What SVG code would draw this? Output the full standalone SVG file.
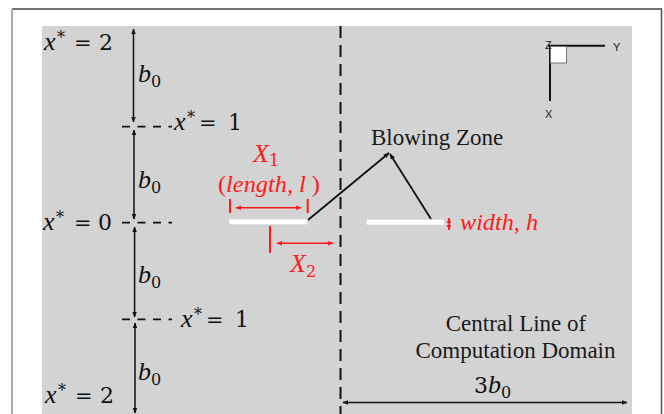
<svg xmlns="http://www.w3.org/2000/svg" width="664" height="414" viewBox="0 0 664 414">
<style>
.math{font-family:"DejaVu Serif","Liberation Serif",serif;font-size:22px;fill:#111}
.it{font-family:"Liberation Serif","Times New Roman",serif;font-style:italic;font-size:26px}
.sym{font-size:21px}
.sub{font-size:16px;font-style:normal}
.red{fill:#ff1a1a}
.txt{font-family:"Liberation Serif","Times New Roman",serif;font-size:23px;fill:#1a1a1a}
.ax{font-family:"Liberation Sans",Arial,sans-serif;font-size:11px;fill:#222}
.dim{stroke:#111;stroke-width:1.5;fill:none;marker-start:url(#ak);marker-end:url(#ak)}
.rdim{stroke:#ff1a1a;stroke-width:1.6;fill:none;marker-start:url(#ar);marker-end:url(#ar)}
.tick{stroke:#ff1a1a;stroke-width:2}
.hd{stroke:#111;stroke-width:1.8;stroke-dasharray:8 7.5}
.plate{fill:#ffffff}
</style>
<defs>
<marker id="ak" viewBox="0 0 10 10" refX="9" refY="5" markerWidth="6" markerHeight="6" markerUnits="userSpaceOnUse" orient="auto-start-reverse"><path d="M0,1 L10,5 L0,9 z" fill="#111"/></marker>
<marker id="ar" viewBox="0 0 10 10" refX="9" refY="5" markerWidth="6" markerHeight="6" markerUnits="userSpaceOnUse" orient="auto-start-reverse"><path d="M0,1 L10,5 L0,9 z" fill="#ff1a1a"/></marker>
</defs>
<rect x="0" y="0" width="664" height="414" fill="#ffffff"/>
<g id="frame">
<line x1="12" y1="9" x2="662" y2="9" stroke="#444" stroke-width="1.5"/>
<line x1="12" y1="9" x2="12" y2="414" stroke="#aaa" stroke-width="2"/>
<line x1="661.5" y1="9" x2="661.5" y2="414" stroke="#555" stroke-width="1.5"/>
<rect x="42" y="26" width="590" height="388" fill="#d3d3d3"/>
</g>
<g id="connectors">
<line class="dim" x1="133.5" y1="29" x2="133.5" y2="122"/>
<line class="dim" x1="134" y1="130" x2="134" y2="219"/>
<line class="dim" x1="134.6" y1="227" x2="134.6" y2="317"/>
<line class="dim" x1="135" y1="323" x2="135" y2="413"/>
<line class="hd" x1="122" y1="126.7" x2="172" y2="126.7"/>
<line class="hd" x1="122" y1="222.7" x2="172" y2="222.7"/>
<line class="hd" x1="122" y1="319.3" x2="172" y2="319.3"/>
<line x1="340.5" y1="26" x2="340.5" y2="414" stroke="#111" stroke-width="2" stroke-dasharray="12 7"/>
<line x1="308" y1="220" x2="389" y2="153" stroke="#111" stroke-width="1.8" marker-end="url(#ak)"/>
<line x1="431" y1="219" x2="390" y2="154" stroke="#111" stroke-width="1.8" marker-end="url(#ak)"/>
<line class="dim" x1="343" y1="402.5" x2="627" y2="402.5"/>
<line class="tick" x1="230" y1="199" x2="230" y2="213"/>
<line class="tick" x1="307.7" y1="199" x2="307.7" y2="213"/>
<line class="rdim" x1="236" y1="207.7" x2="301" y2="207.7"/>
<line class="tick" x1="270" y1="226" x2="270" y2="253"/>
<line class="rdim" x1="277" y1="243.3" x2="333" y2="243.3"/>
<line class="rdim" x1="449" y1="218" x2="449" y2="230" stroke-width="1.4"/>
</g>
<g id="plate-left"><rect class="plate" x="229.3" y="219.3" width="78" height="5"/></g>
<g id="plate-right"><rect class="plate" x="366.7" y="219.7" width="77.3" height="5"/></g>
<g id="axes">
<line x1="548" y1="45.7" x2="605" y2="45.7" stroke="#111" stroke-width="2"/>
<line x1="550" y1="45" x2="550" y2="101" stroke="#111" stroke-width="2"/>
<rect x="550.5" y="46.5" width="16" height="16.5" fill="#ffffff" stroke="#777" stroke-width="1"/>
<text class="ax" x="545" y="49">Z</text>
<text class="ax" x="613" y="51">Y</text>
<text class="ax" x="545" y="118">X</text>
</g>
<g id="labels-left">
<text class="math" x="44" y="50"><tspan class="it">x</tspan><tspan x="57" y="43" class="sub">*</tspan><tspan class="sym" x="74" y="50">=</tspan><tspan x="99" y="50">2</tspan></text>
<text class="math" x="138" y="82"><tspan class="it">b</tspan><tspan x="151" y="87" class="sub">0</tspan></text>
<text class="math" x="174" y="130"><tspan class="it">x</tspan><tspan x="187" y="123" class="sub">*</tspan><tspan class="sym" x="199" y="130">=</tspan><tspan x="228" y="130">1</tspan></text>
<text class="math" x="138" y="188"><tspan class="it">b</tspan><tspan x="151" y="193" class="sub">0</tspan></text>
<text class="math" x="43" y="230"><tspan class="it">x</tspan><tspan x="56" y="223" class="sub">*</tspan><tspan class="sym" x="74" y="230">=</tspan><tspan x="98" y="230">0</tspan></text>
<text class="math" x="138" y="283"><tspan class="it">b</tspan><tspan x="151" y="288" class="sub">0</tspan></text>
<text class="math" x="181" y="327"><tspan class="it">x</tspan><tspan x="194" y="320" class="sub">*</tspan><tspan class="sym" x="206" y="327">=</tspan><tspan x="235" y="327">1</tspan></text>
<text class="math" x="138" y="380"><tspan class="it">b</tspan><tspan x="151" y="385" class="sub">0</tspan></text>
<text class="math" x="45" y="403"><tspan class="it">x</tspan><tspan x="58" y="396" class="sub">*</tspan><tspan class="sym" x="75" y="403">=</tspan><tspan x="100" y="403">2</tspan></text>
</g>
<g id="labels-red">
<text class="math red" x="253" y="162"><tspan class="it">X</tspan><tspan x="269" y="166" class="sub">1</tspan></text>
<text class="math red" x="218" y="192" textLength="102" lengthAdjust="spacingAndGlyphs"><tspan style="font-family:'Liberation Serif',serif;font-size:23px">(</tspan><tspan class="it" style="font-size:23px">length, l </tspan><tspan style="font-family:'Liberation Serif',serif;font-size:23px">)</tspan></text>
<text class="math red" x="290" y="272"><tspan class="it">X</tspan><tspan x="306" y="277" class="sub">2</tspan></text>
<text class="math red" x="460" y="230" textLength="78" lengthAdjust="spacingAndGlyphs"><tspan class="it" style="font-size:23px">width, h</tspan></text>
</g>
<g id="labels-right">
<text class="txt" x="371" y="145">Blowing Zone</text>
<text class="txt" x="516" y="331" text-anchor="middle">Central Line of</text>
<text class="txt" x="515.5" y="358" text-anchor="middle">Computation Domain</text>
<text class="math" x="474" y="393">3<tspan class="it">b</tspan><tspan x="501" y="398" class="sub">0</tspan></text>
</g>
</svg>
